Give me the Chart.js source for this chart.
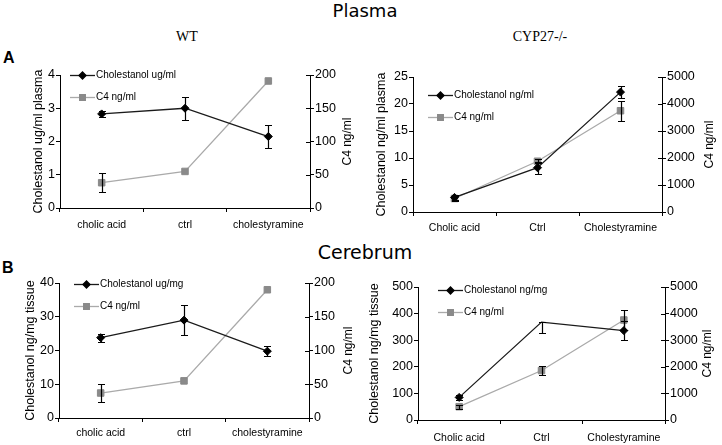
<!DOCTYPE html>
<html>
<head>
<meta charset="utf-8">
<script src="https://cdn.jsdelivr.net/npm/chart.js@4.4.1/dist/chart.umd.min.js"></script>
<style>
  html, body { margin: 0; padding: 0; background: #fff; }
  body { width: 722px; height: 445px; position: relative; overflow: hidden; }
  .panel { position: absolute; }
  .txt { position: absolute; white-space: nowrap; color: #000; text-align: center; width: 200px; }
  .head { font-family: 'DejaVu Sans', sans-serif; font-size: 18px; line-height: 18px; }
  .sub { font-family: 'Liberation Serif', 'Times New Roman', serif; font-size: 14px; line-height: 14px; }
  .lab { font-family: 'Liberation Sans', Arial, sans-serif; font-weight: bold; font-size: 16px; line-height: 16px; text-align: left; width: auto; }
</style>
</head>
<body>
<div class="txt head" style="left:265px; top:2px;">Plasma</div>
<div class="txt head" style="left:265px; top:243px; font-size:19px; line-height:19px;">Cerebrum</div>
<div class="txt sub" style="left:87px; top:30px;">WT</div>
<div class="txt sub" style="left:440px; top:30px;">CYP27-/-</div>
<div class="txt lab" style="left:3px; top:50px;">A</div>
<div class="txt lab" style="left:2px; top:260px;">B</div>

<div class="panel" style="left:0px; top:55px;"><canvas id="c1" width="365" height="190"></canvas></div>
<div class="panel" style="left:365px; top:55px;"><canvas id="c2" width="357" height="190"></canvas></div>
<div class="panel" style="left:0px; top:262px;"><canvas id="c3" width="365" height="183"></canvas></div>
<div class="panel" style="left:365px; top:262px;"><canvas id="c4" width="357" height="183"></canvas></div>

<script>
// categories
var wtLabels = ['cholic acid', 'ctrl', 'cholestyramine'];
var cypLabels = ['Cholic acid', 'Ctrl', 'Cholestyramine'];

// Plasma, WT
var plWtChol = [2.83, 3.0, 2.15];
var plWtCholErr = [0.08, 0.35, 0.35];
var plWtC4 = [38, 55, 191];
var plWtC4Err = [14, 0, 0];

// Plasma, CYP27-/-
var plCypChol = [2.7, 8.2, 22.2];
var plCypCholErr = [0.5, 1.1, 1.1];
var plCypC4 = [500, 1880, 3750];
var plCypC4Err = [100, 80, 375];

// Cerebrum, WT
var ceWtChol = [23.8, 29.0, 19.8];
var ceWtCholErr = [1.2, 4.5, 1.5];
var ceWtC4 = [37, 55, 190];
var ceWtC4Err = [13, 0, 0];

// Cerebrum, CYP27-/-  ([down, up] where the bar is one-sided)
var ceCypChol = [85, 368, 336];
var ceCypCholErr = [8, [40, 0], 36];
var ceCypC4 = [500, 1860, 3760];
var ceCypC4Err = [80, 170, 370];

var NARROW = "'Liberation Sans Narrow', 'Liberation Sans', Arial, sans-serif";
Chart.defaults.color = '#000';
Chart.defaults.font.family = NARROW;

// Error bars
var errorBars = {
    id: 'errorBars',
    afterDatasetsDraw: function (chart) {
        var ctx = chart.ctx;
        chart.data.datasets.forEach(function (ds, i) {
            if (!ds.err) return;
            var meta = chart.getDatasetMeta(i);
            var ys = chart.scales[ds.yAxisID];
            ctx.save();
            ctx.strokeStyle = '#000';
            ctx.lineWidth = 1.2;
            meta.data.forEach(function (pt, j) {
                var e = ds.err[j];
                var lo = Array.isArray(e) ? e[0] : e;
                var hi = Array.isArray(e) ? e[1] : e;
                if (!lo && !hi) return;
                var yTop = Math.round(ys.getPixelForValue(ds.data[j] + hi)) + 0.5;
                var yBot = Math.round(ys.getPixelForValue(ds.data[j] - lo)) + 0.5;
                var x = Math.round(pt.x) + 0.5;
                ctx.beginPath();
                ctx.moveTo(x, yTop); ctx.lineTo(x, yBot);
                ctx.moveTo(x - 3.5, yTop); ctx.lineTo(x + 3.5, yTop);
                ctx.moveTo(x - 3.5, yBot); ctx.lineTo(x + 3.5, yBot);
                ctx.stroke();
            });
            ctx.restore();
        });
    }
};

// Legend with line + marker, right axis title, inward ticks on right axis
var decor = {
    id: 'decor',
    afterDraw: function (chart, args, opts) {
        var ctx = chart.ctx, a = chart.chartArea;
        ctx.save();
        chart.data.datasets.forEach(function (ds, i) {
            var x1 = a.left + opts.x, x2 = x1 + 25;
            var y = Math.round(a.top + opts.y + i * 22) + 0.5;
            ctx.strokeStyle = ds.borderColor;
            ctx.lineWidth = ds.borderWidth;
            ctx.beginPath(); ctx.moveTo(x1, y); ctx.lineTo(x2, y); ctx.stroke();
            ctx.fillStyle = ds.pointBackgroundColor;
            ctx.strokeStyle = ds.pointBorderColor;
            Chart.helpers.drawPoint(ctx, {pointStyle: ds.pointStyle, radius: ds.pointStyle === 'rect' ? 4 : 3.5, borderWidth: 1, rotation: 0}, (x1 + x2) / 2, y);
            ctx.fillStyle = '#000';
            ctx.font = '10px ' + NARROW;
            ctx.textBaseline = 'middle';
            ctx.textAlign = 'left';
            ctx.fillText(ds.label, x2 + 1, y);
        });
        // inward half of right axis ticks
        var r = chart.scales.y1;
        ctx.strokeStyle = '#000';
        ctx.lineWidth = 1;
        r.ticks.forEach(function (t, k) {
            var yy = Math.round(r.getPixelForTick(k)) + 0.5;
            ctx.beginPath(); ctx.moveTo(a.right - 4, yy); ctx.lineTo(a.right, yy); ctx.stroke();
        });
        // right axis title, reading bottom to top
        ctx.translate(a.right + opts.rt, (a.top + a.bottom) / 2);
        ctx.rotate(-Math.PI / 2);
        ctx.font = '12px ' + "'Liberation Sans', Arial, sans-serif";
        ctx.textAlign = 'center';
        ctx.textBaseline = 'middle';
        ctx.fillText('C4 ng/ml', 0, 0);
        ctx.restore();
    }
};

function plain(v) { return String(v); }

function makeChart(id, p) {
    var ctx = document.getElementById(id).getContext('2d');
    return new Chart(ctx, {
        type: 'line',
        data: {
            labels: p.labels,
            datasets: [{
                label: p.cholLabel,
                data: p.chol,
                err: p.cholErr,
                yAxisID: 'y',
                borderColor: '#1a1a1a',
                borderWidth: 1.3,
                pointStyle: 'rectRot',
                pointRadius: p.cholRadius || 4,
                pointBackgroundColor: '#000',
                pointBorderColor: '#000',
                pointBorderWidth: 1,
                tension: 0
            }, {
                label: 'C4 ng/ml',
                data: p.c4,
                err: p.c4Err,
                yAxisID: 'y1',
                borderColor: '#aaaaaa',
                borderWidth: 1.3,
                pointStyle: 'rect',
                pointRadius: 4.6,
                pointBackgroundColor: '#8a8a8a',
                pointBorderColor: '#8a8a8a',
                pointBorderWidth: 1,
                tension: 0
            }]
        },
        options: {
            responsive: false,
            animation: false,
            devicePixelRatio: 1,
            layout: {padding: {top: p.padTop, left: 0, right: 0, bottom: 0}},
            plugins: {
                legend: {display: false},
                tooltip: {enabled: false},
                decor: {x: p.legX, y: p.legY, rt: p.rightTitle}
            },
            scales: {
                x: {
                    offset: true,
                    grid: {offset: true, drawOnChartArea: false, tickLength: 4, color: '#000'},
                    border: {color: '#000', width: 1},
                    ticks: {padding: p.xPad, font: {size: 10.5}, maxRotation: 0, autoSkip: false},
                    afterFit: function (s) { s.height = p.xH; }
                },
                y: {
                    position: 'left',
                    min: 0, max: p.yMax,
                    ticks: {stepSize: p.yStep, padding: 1, font: {size: 12.5}, callback: plain},
                    grid: {drawOnChartArea: false, tickLength: 4, color: '#000'},
                    border: {color: '#000', width: 1},
                    title: {display: true, text: p.yTitle, padding: {top: p.leftTitle, bottom: 0},
                            font: {size: 12.5, family: "'Liberation Sans', Arial, sans-serif"}},
                    afterFit: function (s) { s.width = p.leftW; }
                },
                y1: {
                    position: 'right',
                    min: 0, max: p.y1Max,
                    ticks: {stepSize: p.y1Step, padding: 1, font: {size: 12.5}, callback: plain},
                    grid: {drawOnChartArea: false, tickLength: 4, color: '#000'},
                    border: {color: '#000', width: 1},
                    afterFit: function (s) { s.width = p.rightW; }
                }
            }
        },
        plugins: [errorBars, decor]
    });
}

makeChart('c1', {
    labels: wtLabels, chol: plWtChol, cholErr: plWtCholErr, c4: plWtC4, c4Err: plWtC4Err,
    cholLabel: 'Cholestanol ug/ml', yTitle: 'Cholestanol ug/ml plasma',
    yMax: 4, yStep: 1, y1Max: 200, y1Step: 50,
    leftW: 60, rightW: 55, padTop: 20, xH: 37, xPad: 7,
    leftTitle: 31.5, rightTitle: 38, legX: 10, legY: 0
});
makeChart('c2', {
    labels: cypLabels, chol: plCypChol, cholErr: plCypCholErr, c4: plCypC4, c4Err: plCypC4Err,
    cholLabel: 'Cholestanol ng/ml', yTitle: 'Cholestanol ng/ml plasma',
    yMax: 25, yStep: 5, y1Max: 5000, y1Step: 1000,
    leftW: 48, rightW: 60, padTop: 22, xH: 33, xPad: 6,
    leftTitle: 9.5, rightTitle: 48, legX: 15, legY: 18
});
makeChart('c3', {
    labels: wtLabels, chol: ceWtChol, cholErr: ceWtCholErr, c4: ceWtC4, c4Err: ceWtC4Err,
    cholLabel: 'Cholestanol ug/mg', yTitle: 'Cholestanol ng/mg tissue',
    yMax: 40, yStep: 10, y1Max: 200, y1Step: 50,
    leftW: 59, rightW: 56, padTop: 21, xH: 27, xPad: 5,
    leftTitle: 23.5, rightTitle: 40, legX: 15, legY: 1
});
makeChart('c4', {
    labels: cypLabels, chol: ceCypChol, cholErr: ceCypCholErr, c4: ceCypC4, c4Err: ceCypC4Err,
    cholLabel: 'Cholestanol ng/mg', yTitle: 'Cholestanol ng/mg tissue',
    cholRadius: [4, 0, 4],
    yMax: 500, yStep: 100, y1Max: 5000, y1Step: 1000,
    leftW: 53, rightW: 57, padTop: 25, xH: 25, xPad: 8,
    leftTitle: 2.5, rightTitle: 43, legX: 20, legY: 3
});
</script>
</body>
</html>
